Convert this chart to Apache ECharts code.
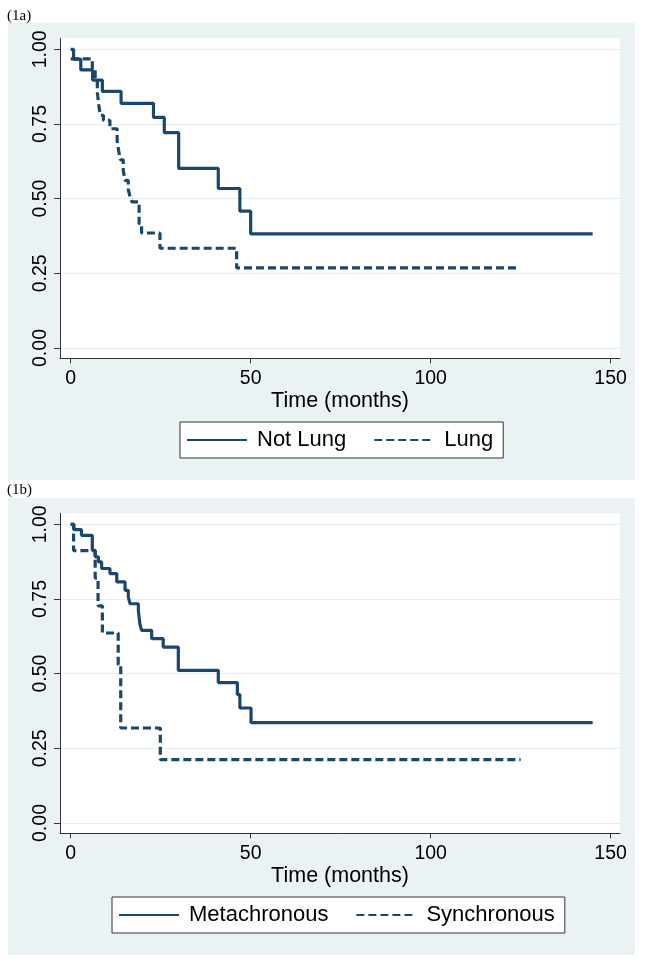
<!DOCTYPE html>
<html>
<head>
<meta charset="utf-8">
<script src="https://cdn.jsdelivr.net/npm/echarts@6/dist/echarts.min.js"></script>
<style>
html,body{margin:0;padding:0;background:#fff;}
#chart{width:645px;height:964px;}
</style>
</head>
<body>
<div id="chart"></div>
<script>
// ---- Data ----
// Panel (1a)
const notLungTime = [0, 0.8, 2.8, 6.1, 8.8, 14.0, 23.0, 26.0, 30.0, 41.0, 47.0, 50.0, 145];
const notLungSurv = [1, 0.967, 0.931, 0.897, 0.859, 0.819, 0.772, 0.721, 0.601, 0.534, 0.458, 0.382, 0.382];
const lungTime = [0, 6.0, 6.8, 7.4, 7.8, 8.2, 9.1, 10.9, 12.9, 13.3, 13.8, 14.6, 15.1, 16.0, 16.5, 17.0, 19.0, 19.7, 24.8, 46.1, 124.5];
const lungSurv = [0.968, 0.932, 0.896, 0.855, 0.815, 0.779, 0.762, 0.734, 0.695, 0.662, 0.63, 0.595, 0.561, 0.53, 0.506, 0.489, 0.416, 0.385, 0.334, 0.268, 0.268];
// Panel (1b)
const metaTime = [0, 0.9, 3.0, 6.0, 6.8, 7.7, 8.6, 10.9, 12.8, 15.1, 16.0, 16.5, 18.8, 19.2, 19.7, 22.5, 25.7, 29.9, 41.0, 46.3, 47.0, 50.1, 145];
const metaSurv = [1, 0.982, 0.963, 0.913, 0.891, 0.874, 0.852, 0.835, 0.807, 0.779, 0.757, 0.734, 0.712, 0.667, 0.645, 0.617, 0.589, 0.511, 0.47, 0.43, 0.385, 0.336, 0.336];
const syncTime = [0, 0.8, 6.8, 7.6, 8.8, 13.2, 13.9, 24.9, 125];
const syncSurv = [1, 0.912, 0.82, 0.727, 0.636, 0.53, 0.318, 0.212, 0.212];

const xTicks = [0, 50, 100, 150];
const yTicks = [0, 0.25, 0.5, 0.75, 1];
const panelLabels = ['(1a)', '(1b)'];
const xTitle = 'Time (months)';
const legendA = ['Not Lung', 'Lung'];
const legendB = ['Metachronous', 'Synchronous'];

// ---- Styling ----
const NAVY = '#1a476f';
const BG = '#eaf2f3';
const FONT = '"Liberation Sans", Arial, Helvetica, sans-serif';
const zip = (a, b) => a.map((v, i) => [v, b[i]]);

function makeX(idx) {
  return {
    gridIndex: idx, type: 'value', min: -2.97, max: 152.6,
    name: xTitle, nameLocation: 'middle', nameGap: 32,
    nameTextStyle: { color: '#000', fontSize: 21.5, fontFamily: FONT },
    axisLine: { onZero: false, lineStyle: { color: '#333', width: 1 } },
    axisTick: { show: true, length: 5, customValues: xTicks, lineStyle: { color: '#333' } },
    axisLabel: { customValues: xTicks, margin: 10, color: '#000', fontSize: 19.5, fontFamily: FONT },
    splitLine: { show: false }
  };
}
function makeY(idx) {
  return {
    gridIndex: idx, type: 'value', min: -0.0345, max: 1.0368,
    axisLine: { show: true, onZero: false, lineStyle: { color: '#333', width: 1 } },
    axisTick: { show: true, length: 6, customValues: yTicks, lineStyle: { color: '#333' } },
    axisLabel: { customValues: yTicks, rotate: 90, margin: 9, color: '#000', fontSize: 19.5, fontFamily: FONT,
      formatter: v => v.toFixed(2) },
    splitLine: { show: true, lineStyle: { color: '#e4eef0', width: 1 } }
  };
}
function makeLegend(names, left, top) {
  return {
    data: names, left: left, top: top, orient: 'horizontal',
    itemWidth: 60, itemHeight: 14, itemGap: 27,
    padding: [7, 10, 7, 6],
    backgroundColor: '#fff', borderColor: '#333', borderWidth: 1, borderRadius: 0,
    selectedMode: false,
    itemStyle: { opacity: 0, borderWidth: 0 },
    textStyle: { color: '#000', fontSize: 22, fontFamily: FONT, lineHeight: 22, padding: [0, 0, 0, 5] }
  };
}
function makeSeries(name, t, s, idx, dashed) {
  return {
    type: 'line', name: name, xAxisIndex: idx, yAxisIndex: idx,
    step: 'end', symbol: 'none', showSymbol: false,
    data: zip(t, s),
    lineStyle: { color: NAVY, width: 3.2, type: dashed ? [8, 4] : 'solid', cap: 'butt' },
    itemStyle: { color: NAVY },
    z: dashed ? 3 : 4
  };
}

const chart = echarts.init(document.getElementById('chart'), null, { renderer: 'canvas' });
chart.setOption({
  animation: false,
  backgroundColor: '#fff',
  graphic: [
    { type: 'rect', z: -10, shape: { x: 8, y: 23, width: 627, height: 457 }, style: { fill: BG } },
    { type: 'rect', z: -10, shape: { x: 8, y: 498, width: 627, height: 457 }, style: { fill: BG } },
    { type: 'text', x: 7, y: 9, style: { text: panelLabels[0], font: '15px "Liberation Serif", "Times New Roman", serif', fill: '#000' } },
    { type: 'text', x: 7, y: 483, style: { text: panelLabels[1], font: '15px "Liberation Serif", "Times New Roman", serif', fill: '#000' } }
  ],
  grid: [
    { left: 60, right: 25, top: 38.3, height: 320, show: true, backgroundColor: '#fff', borderWidth: 0 },
    { left: 60, right: 25, top: 513.3, height: 320, show: true, backgroundColor: '#fff', borderWidth: 0 }
  ],
  xAxis: [makeX(0), makeX(1)],
  yAxis: [makeY(0), makeY(1)],
  legend: [makeLegend(legendA, 180, 422), makeLegend(legendB, 112, 897)],
  series: [
    makeSeries(legendA[0], notLungTime, notLungSurv, 0, false),
    makeSeries(legendA[1], lungTime, lungSurv, 0, true),
    makeSeries(legendB[0], metaTime, metaSurv, 1, false),
    makeSeries(legendB[1], syncTime, syncSurv, 1, true)
  ]
});
</script>
</body>
</html>
